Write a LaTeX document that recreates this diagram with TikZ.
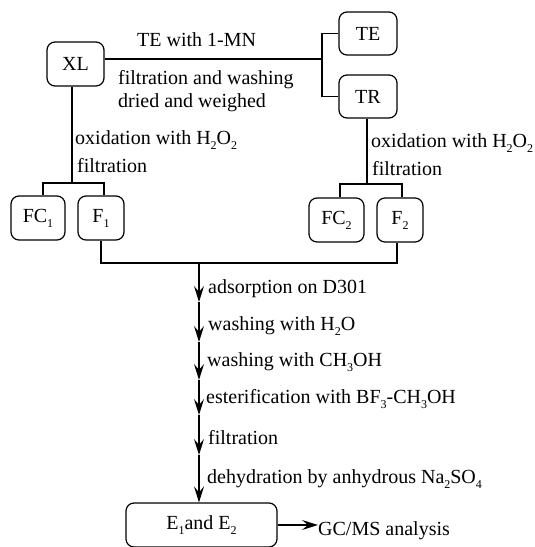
\documentclass[tikz,border=0pt]{standalone}
\usepackage{fontspec}
\setmainfont{Liberation Serif}
\usetikzlibrary{arrows.meta}
\newcommand\sbs[1]{\raisebox{-0.25em}{\fontsize{12}{12}\selectfont #1}}
\begin{document}
\begin{tikzpicture}[x=1pt,y=-1pt,
  box/.style={draw,rounded corners=8pt,line width=1.2pt,inner sep=0pt,font=\fontsize{20}{24}\selectfont},
  lbl/.style={anchor=base west,inner sep=0pt,font=\fontsize{20}{24}\selectfont},
  ln/.style={line width=1.2pt},
  arr/.style={line width=1.2pt,-{Stealth[length=16pt,width=10pt,inset=6pt]}}]
\useasboundingbox (0,0) rectangle (535,547);
% boxes
\node[box,minimum width=57pt,minimum height=44pt] (XL) at (75.5,64) {XL};
\node[box,minimum width=58pt,minimum height=43pt] (TE) at (368,33.5) {TE};
\node[box,minimum width=58pt,minimum height=43pt] (TR) at (368,96.5) {TR};
\node[box,minimum width=54pt,minimum height=44pt] (FC1) at (38,218) {FC\sbs{1}};
\node[box,minimum width=46pt,minimum height=44pt] (F1) at (101,218) {F\sbs{1}};
\node[box,minimum width=55pt,minimum height=44pt] (FC2) at (336.5,220) {FC\sbs{2}};
\node[box,minimum width=46pt,minimum height=44pt] (F2) at (400,220) {F\sbs{2}};
\node[box,minimum width=151pt,minimum height=44pt] (E) at (201.5,525) {E\sbs{1}and E\sbs{2}};
% top connectors
\coordinate (j1) at (322,59);
\draw[ln] (XL.east |- j1) -- (j1);
\draw[ln] (TE.west) -| (j1) |- (TR.west);
\node[lbl] (t1) at (137,46) {TE with 1-MN};
\node[lbl] (t2) at (118,84) {filtration and washing};
\node[lbl] (t3) at (118,107) {dried and weighed};
% left branch
\coordinate (j2) at (72,183);
\draw[ln] (XL.south -| j2) -- (j2);
\draw[ln] ([xshift=5pt]FC1.north) |- (j2) -| ([xshift=3pt]F1.north);
\node[lbl] (l1) at (75,144) {oxidation with H\sbs{2}O\sbs{2}};
\node[lbl] (l2) at (77,172) {filtration};
% right branch
\coordinate (j3) at (367,184);
\draw[ln] (TR.south -| j3) -- (j3);
\draw[ln] ([xshift=3.5pt]FC2.north) |- (j3) -| ([xshift=2pt]F2.north);
\node[lbl] (r1) at (371,147) {oxidation with H\sbs{2}O\sbs{2}};
\node[lbl] (r2) at (372,175) {filtration};
% merge
\coordinate (m0) at (199,263);
\draw[ln] (F1.south) |- (m0) -| ([xshift=-3pt]F2.south);
\coordinate (a1) at (199,302);
\coordinate (a2) at (199,342);
\coordinate (a3) at (199,380);
\coordinate (a4) at (199,415);
\coordinate (a5) at (199,455);
\draw[arr] (m0) -- (a1);
\draw[arr] (a1) -- (a2);
\draw[arr] (a2) -- (a3);
\draw[arr] (a3) -- (a4);
\draw[arr] (a4) -- (a5);
\draw[arr] (a5) -- (E.north -| a5);
\node[lbl] (s1) at (208,293) {adsorption on D301};
\node[lbl] (s2) at (208,330) {washing with H\sbs{2}O};
\node[lbl] (s3) at (207,366) {washing with CH\sbs{3}OH};
\node[lbl] (s4) at (206,403) {esterification with BF\sbs{3}-CH\sbs{3}OH};
\node[lbl] (s5) at (208,444) {filtration};
\node[lbl] (s6) at (207,483) {dehydration by anhydrous Na\sbs{2}SO\sbs{4}};
% output
\node[lbl] (gc) at (318,535) {GC/MS analysis};
\draw[arr] (E.east) -- (E.east -| gc.west);
\end{tikzpicture}
\end{document}
